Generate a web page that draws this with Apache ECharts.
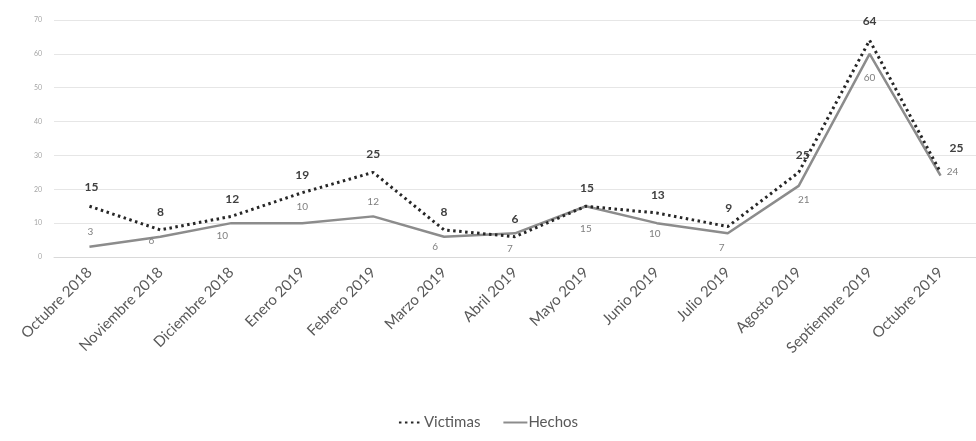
<!DOCTYPE html>
<html>
<head>
<meta charset="utf-8">
<script src="https://cdn.jsdelivr.net/npm/echarts@6/dist/echarts.min.js"></script>
<style>html,body{margin:0;padding:0;background:#fff}#c{width:976px;height:441px}</style>
</head>
<body>
<div id="c"></div>
<script>
var categories = ['Octubre 2018','Noviembre 2018','Diciembre 2018','Enero 2019','Febrero 2019','Marzo 2019','Abril 2019','Mayo 2019','Junio 2019','Julio 2019','Agosto 2019','Septiembre 2019','Octubre 2019'];
var victimas = [15, 8, 12, 19, 25, 8, 6, 15, 13, 9, 25, 64, 25];
var hechos = [3, 6, 10, 10, 12, 6, 7, 15, 10, 7, 21, 60, 24];
var yTicks = [0, 10, 20, 30, 40, 50, 60, 70];

// label offsets (px) relative to each point
var victimasLabelOffset = [[2,-19],[0,-18],[1,-17],[0,-18],[0,-18],[0,-18],[0,-18],[1,-18],[1,-18],[1,-18],[4,-17],[0,-19],[16,-24]];
var hechosLabelOffset = [[1,-15],[-9,4],[-9,13],[0,-16],[0,-15],[-9,10],[-5,15],[0,23],[-2,11],[-6,14],[5,14],[0,24],[12,-4]];

function build(values, offsets) {
  return values.map(function (v, i) {
    return { value: v, label: { offset: offsets[i] } };
  });
}

var chart = echarts.init(document.getElementById('c'));
chart.setOption({
  animation: false,
  backgroundColor: '#ffffff',
  grid: { left: 54, right: -12, top: 20, height: 237, containLabel: false },
  legend: {
    show: true,
    bottom: 6,
    left: 'center',
    itemWidth: 24,
    itemHeight: 10,
    itemGap: 22,
    itemStyle: { opacity: 0 },
    textStyle: { fontFamily: 'Lato', fontSize: 15, color: '#595959', padding: [0, 0, 0, -4] },
    data: ['Victimas', 'Hechos']
  },
  xAxis: {
    type: 'category',
    data: categories,
    boundaryGap: true,
    axisLine: { show: true, lineStyle: { color: '#d9d9d9', width: 1 } },
    axisTick: { show: false },
    axisLabel: { rotate: 45, interval: 0, margin: 13, fontFamily: 'Lato', fontSize: 15, color: '#595959' }
  },
  yAxis: {
    type: 'value',
    min: yTicks[0],
    max: yTicks[yTicks.length - 1],
    interval: 10,
    axisLine: { show: false },
    axisTick: { show: false },
    splitLine: { lineStyle: { color: '#e6e6e6', width: 1 } },
    axisLabel: { fontFamily: 'Lato', fontSize: 7, color: '#a6a6a6', margin: 12 }
  },
  series: [
    {
      name: 'Victimas',
      type: 'line',
      data: build(victimas, victimasLabelOffset),
      symbol: 'circle',
      symbolSize: 0.1,
      showSymbol: true,
      itemStyle: { color: '#262626' },
      lineStyle: { color: '#262626', width: 3, type: [2.5, 3.5] },
      label: { show: true, position: 'inside', fontFamily: 'Lato', fontWeight: 'bold', fontSize: 12, color: '#404040' },
      z: 3
    },
    {
      name: 'Hechos',
      type: 'line',
      data: build(hechos, hechosLabelOffset),
      symbol: 'circle',
      symbolSize: 0.1,
      showSymbol: true,
      itemStyle: { color: '#8c8c8c' },
      lineStyle: { color: '#8c8c8c', width: 2.5 },
      label: { show: true, position: 'inside', fontFamily: 'Lato', fontSize: 10, color: '#7f7f7f' },
      z: 2
    }
  ]
});
</script>
</body>
</html>
